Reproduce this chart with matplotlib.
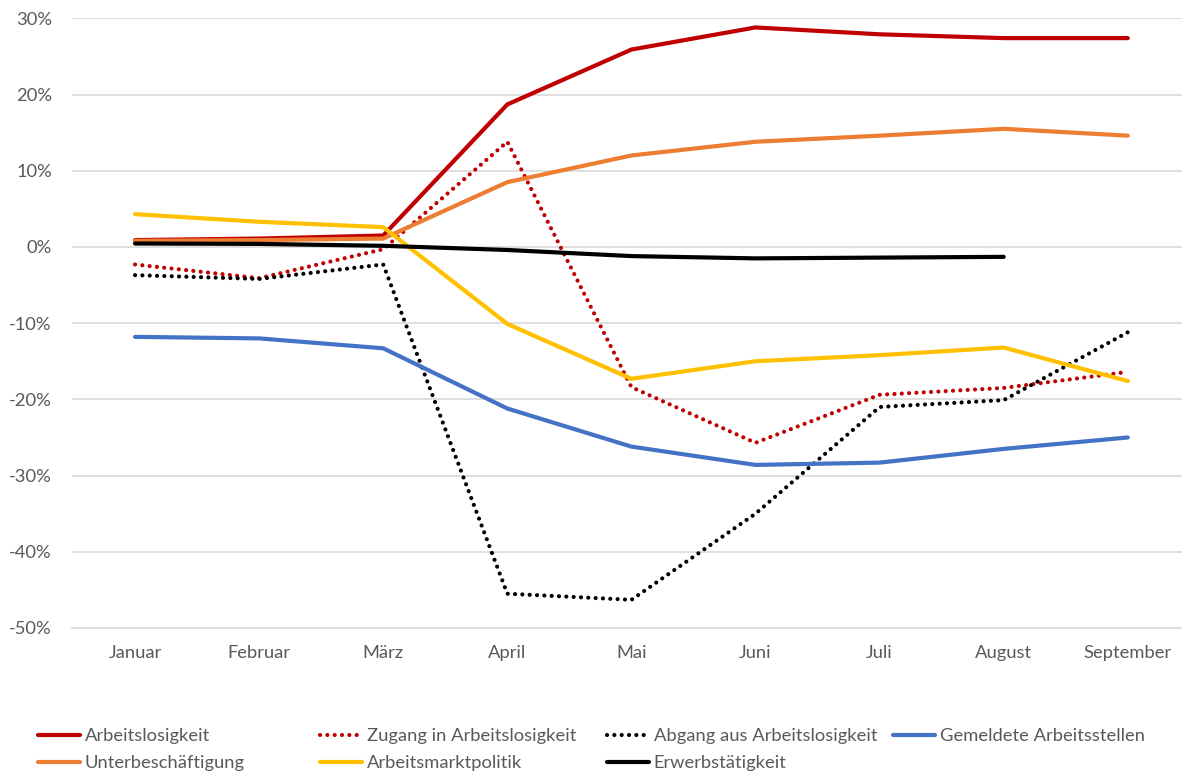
import matplotlib
matplotlib.use('Agg')
import matplotlib.pyplot as plt
import numpy as np
from matplotlib.ticker import FuncFormatter

# Monthly change vs. previous year, in percent
MONTHS = ["Januar", "Februar", "März", "April", "Mai", "Juni", "Juli", "August", "September"]

arbeitslosigkeit = [0.9, 1.1, 1.5, 18.7, 25.9, 28.8, 27.9, 27.4, 27.4]
zugang = [-2.3, -4.1, -0.3, 13.8, -18.4, -25.7, -19.4, -18.5, -16.4]
abgang = [-3.7, -4.2, -2.3, -45.5, -46.3, -35.0, -21.0, -20.1, -11.2]
gemeldete = [-11.8, -12.0, -13.3, -21.2, -26.2, -28.6, -28.3, -26.5, -25.0]
unterbeschaeftigung = [0.8, 0.9, 1.1, 8.5, 12.0, 13.8, 14.6, 15.5, 14.6]
arbeitsmarktpolitik = [4.3, 3.3, 2.6, -10.1, -17.3, -15.0, -14.2, -13.2, -17.6]
erwerbstaetigkeit = [0.45, 0.4, 0.15, -0.4, -1.2, -1.5, -1.4, -1.3, np.nan]

Y_TICKS = [-50, -40, -30, -20, -10, 0, 10, 20, 30]

RED = "#C00000"
ORANGE = "#ED7D31"
YELLOW = "#FFC000"
BLUE = "#4472C4"
BLACK = "#000000"
GRID = "#D9D9D9"
TEXT = "#595959"

plt.rcParams['font.family'] = ['Lato', 'DejaVu Sans']

W, H = 1182, 772
fig = plt.figure(figsize=(W / 100, H / 100), dpi=100)
ax = fig.add_axes([72 / W, 1 - 628 / H, 1 - 72 / W, (628 - 18.3) / H])

x = np.arange(len(MONTHS))
LW = 3.0
dot = dict(linestyle=(0, (0.01, 1.75)), dash_capstyle='round', linewidth=LW)

series = [
    ("Arbeitslosigkeit", arbeitslosigkeit, dict(color=RED, linewidth=LW)),
    ("Zugang in Arbeitslosigkeit", zugang, dict(color=RED, **dot)),
    ("Abgang aus Arbeitslosigkeit", abgang, dict(color=BLACK, **dot)),
    ("Gemeldete Arbeitsstellen", gemeldete, dict(color=BLUE, linewidth=LW)),
    ("Unterbeschäftigung", unterbeschaeftigung, dict(color=ORANGE, linewidth=LW)),
    ("Arbeitsmarktpolitik", arbeitsmarktpolitik, dict(color=YELLOW, linewidth=LW)),
    ("Erwerbstätigkeit", erwerbstaetigkeit, dict(color=BLACK, linewidth=LW)),
]

handles = {}
for name, vals, style in series:
    line, = ax.plot(x, vals, label=name, solid_capstyle='round', **style)
    handles[name] = line

ax.set_ylim(-50, 30)
ax.set_xlim(-0.508, 8.437)
ax.set_yticks(Y_TICKS)
ax.yaxis.set_major_formatter(FuncFormatter(lambda v, p: f"{v:.0f}%"))
ax.set_xticks(x)
ax.set_xticklabels(MONTHS)
ax.grid(axis='y', color=GRID, linewidth=1.2)
ax.set_axisbelow(True)
ax.tick_params(length=0, labelsize=13.2, colors=TEXT)
ax.tick_params(axis='y', pad=14.5)
ax.tick_params(axis='x', pad=12)
for side in ["top", "right", "left"]:
    ax.spines[side].set_visible(False)
ax.spines["bottom"].set_color(GRID)
ax.spines["bottom"].set_linewidth(1.2)

# Legend: four columns laid out like the Excel original
columns = [
    (38, ["Arbeitslosigkeit", "Unterbeschäftigung"]),
    (320, ["Zugang in Arbeitslosigkeit", "Arbeitsmarktpolitik"]),
    (607, ["Abgang aus Arbeitslosigkeit", "Erwerbstätigkeit"]),
    (893, ["Gemeldete Arbeitsstellen"]),
]
for px, names in columns:
    fig.legend([handles[n] for n in names], names,
               loc='upper left', bbox_to_anchor=(px / W, 1 - 728 / H),
               frameon=False, fontsize=13.2, labelcolor=TEXT,
               handlelength=2.3, handletextpad=0.25, labelspacing=0.62,
               borderpad=0, borderaxespad=0)

fig.savefig("out.png", dpi=100, facecolor="white")
